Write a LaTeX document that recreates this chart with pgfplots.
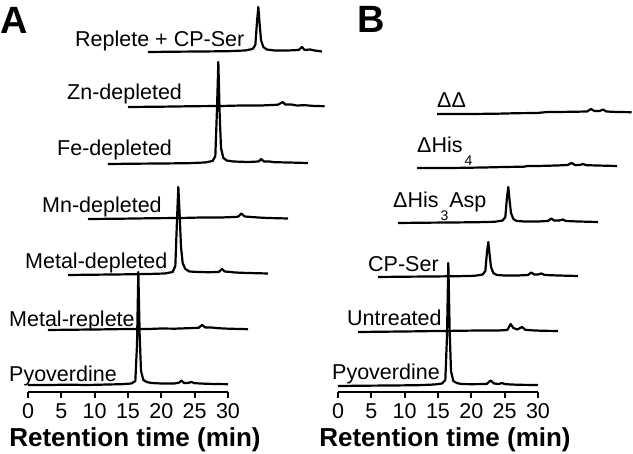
\documentclass[border=0pt]{standalone}
\usepackage{fontspec}
\setmainfont{Liberation Sans}
\usepackage{pgfplots}
\pgfplotsset{compat=1.18}

\newcommand\lab{\fontsize{21.5}{24}\selectfont}
\newcommand\sub[1]{\hspace{2pt}\raisebox{-13pt}{\fontsize{14}{14}\selectfont #1}\hspace{1pt}}

\pgfplotsset{
  chrom/.style={
    scale only axis, width=200pt, height=100pt,
    xmin=0, xmax=30, ymin=0, ymax=100,
    clip=false,
    axis x line=bottom, axis y line=none,
    x axis line style={-, line width=2.1pt},
    xtick={0,5,...,30},
    tick align=outside,
    major tick length=6pt,
    tick style={line width=1.7pt, black},
    /pgf/number format/assume math mode=true,
    xticklabel style={font=\fontsize{21.5}{21.5}\selectfont, yshift=-2pt},
    xlabel={Retention time (min)},
    xlabel style={at={(axis description cs:0.5,0)}, anchor=base,
      yshift=-55pt, xshift=7pt, inner sep=0pt,
      font=\fontsize{26}{26}\selectfont\bfseries},
    every axis plot/.append style={line width=2.2pt, black, mark=none, line join=round},
  }
}

\begin{document}
\begin{tikzpicture}

% ---------- panel A ----------
\begin{axis}[chrom, at={(28pt,-392pt)}, anchor=south west]
% Pyoverdine
\addplot[yshift=7pt] coordinates {
(0,0) (3,0) (6,0.3) (9,0) (12,0.5) (14,0.8) (15.5,1.5) (16.1,4) (16.35,40) (16.55,113)
(16.75,50) (16.95,14) (17.3,5) (17.8,3) (18.5,2) (20,1.5) (22,1.5) (22.7,2.5) (23.0,4.5)
(23.4,2) (24,2) (24.5,3) (25,1.8) (26.5,1.3) (28,1) (30,0.8)};
% Metal-replete
\addplot[xshift=20pt, yshift=62pt] coordinates {
(0,0) (4,0.3) (8,0.6) (12,1) (15,1) (17,1.5) (19,1.3) (21,1.8) (22.6,2.2) (23.1,5)
(23.6,2.5) (24.5,2.5) (25.5,1.8) (27,1.3) (30,0.8)};
% Metal-depleted
\addplot[xshift=40pt, yshift=117pt] coordinates {
(0,0) (4,0.3) (8,0.6) (12,1) (14.5,1.5) (15.7,3) (16.1,9) (16.35,55) (16.55,88) (16.75,60)
(16.95,28) (17.2,12) (17.6,6) (18.2,3.5) (19.5,3) (21,2.8) (22.6,3) (23.1,6) (23.5,3.5)
(24.4,3) (25,2.5) (27,2) (30,1.5)};
% Mn-depleted
\addplot[xshift=60pt, yshift=173pt] coordinates {
(0,0) (5,0.3) (10,0.8) (14,1) (17,1.5) (20,1.5) (22.5,2.2) (23.0,5.5) (23.5,2.5)
(24.5,2) (25.5,1.5) (27,1) (30,0.5)};
% Fe-depleted
\addplot[xshift=80pt, yshift=228pt] coordinates {
(0,0) (4,0.3) (8,0.5) (12,0.8) (14.5,1.5) (15.7,3) (16.1,8) (16.35,55) (16.55,102)
(16.75,50) (16.95,16) (17.3,6) (17.8,3.5) (18.8,2.5) (21,2) (22.6,2.5) (23.0,5) (23.4,2.5)
(24.2,2.5) (25,1.8) (27,1.5) (30,1)};
% Zn-depleted
\addplot[xshift=100pt, yshift=285pt] coordinates {
(0,0) (5,0.3) (10,0.8) (14,1) (17,1.5) (20,1.5) (22.5,2.3) (23.2,5) (23.6,2.5)
(24.5,2.5) (25.3,1.5) (26.5,1.8) (28,1) (29.5,0.8)};
% Replete + CP-Ser
\addplot[xshift=120pt, yshift=340pt] coordinates {
(0,0) (4,0.3) (8,0.5) (12,0.8) (14.5,1.5) (15.7,3) (16.1,7) (16.35,30) (16.55,45)
(16.75,28) (16.95,12) (17.3,5) (17.8,2.5) (19,1.5) (21,1.5) (22.6,2) (23.1,5) (23.5,2)
(24.3,2.5) (25,1.5) (26.1,0.5)};
\end{axis}

% ---------- panel B ----------
\begin{axis}[chrom, at={(338pt,-392pt)}, anchor=south west]
% Pyoverdine
\addplot[yshift=6pt] coordinates {
(0,0) (4,0.3) (8,0.5) (12,0.8) (14.5,1.5) (15.6,2.5) (16.1,6) (16.35,50) (16.55,123)
(16.75,55) (16.95,15) (17.3,5) (17.8,3) (18.5,2) (20,1.8) (22.3,2) (22.9,5.5) (23.4,2.5)
(24.1,2) (24.6,3) (25.1,1.8) (27,1.2) (30,1)};
% Untreated
\addplot[xshift=20pt, yshift=60pt] coordinates {
(0,0) (4,0.3) (8,0.6) (12,1) (15,1.2) (18,1.5) (21,1.5) (22.4,2) (22.9,8) (23.3,4)
(23.9,2.5) (24.6,5) (25.1,2.2) (26.5,1.5) (28,1.2) (30,1)};
% CP-Ser
\addplot[xshift=40pt, yshift=115pt] coordinates {
(0,0) (4,0.3) (8,0.5) (12,0.8) (14.5,1.2) (15.7,2.5) (16.1,6) (16.35,25) (16.55,35)
(16.75,22) (16.95,10) (17.3,4) (17.8,2) (19,1.5) (21,1.5) (22.5,2) (23.0,4.5) (23.4,2.5)
(24,2.5) (24.5,3.5) (25,2) (27,1.5) (30,1)};
% His3Asp
\addplot[xshift=60pt, yshift=169pt] coordinates {
(0,0) (4,0.3) (8,0.5) (12,0.8) (14.5,1.2) (15.7,2.5) (16.1,6) (16.35,26) (16.55,36)
(16.75,22) (16.95,10) (17.3,4) (17.8,2) (19,1.5) (21,1.5) (22.5,2) (23.0,4.5) (23.4,2.5)
(24.2,2.5) (24.7,3.5) (25.2,2) (27,1.5) (30,1)};
% His4
\addplot[xshift=79pt, yshift=224pt] coordinates {
(0,0) (5,0) (8,0.3) (10,0.5) (13,1) (16,1.3) (16.6,2) (18,2) (21,2.5) (22.6,3) (23.2,5)
(23.7,3) (24.4,3) (24.9,4) (25.4,2.8) (27,2.5) (30,2)};
% double mutant
\addplot[xshift=99pt, yshift=278pt] coordinates {
(0,0) (5,0) (9,0.3) (12,0.8) (15,1) (16.6,2) (18,2) (21,2.3) (22.5,2.5) (23.1,5)
(23.6,3) (24.4,3) (24.9,4.5) (25.4,2.5) (27,2) (29.2,1.8)};
\end{axis}

% trace labels
\begin{scope}[every node/.style={inner sep=0pt, anchor=base west, font=\lab}]
\node at (9pt,-382pt) {Pyoverdine};
\node at (9pt,-327pt) {Metal-replete};
\node at (25pt,-269pt) {Metal-depleted};
\node at (42pt,-213pt) {Mn-depleted};
\node at (57pt,-156pt) {Fe-depleted};
\node at (67pt,-100pt) {Zn-depleted};
\node at (75pt,-47pt) {Replete + CP-Ser};
\node at (332pt,-380pt) {Pyoverdine};
\node at (347pt,-326pt) {Untreated};
\node at (368pt,-272pt) {CP-Ser};
\node at (393pt,-208pt) {ΔHis\sub{3}Asp};
\node at (417pt,-153pt) {ΔHis\sub{4}};
\node at (437pt,-108pt) {ΔΔ};
\end{scope}

% panel letters
\node[inner sep=0pt, anchor=base west, font=\fontsize{38}{38}\selectfont\bfseries] at (0pt,-34pt) {A};
\node[inner sep=0pt, anchor=base west, font=\fontsize{38}{38}\selectfont\bfseries] at (357pt,-33pt) {B};

\pgfresetboundingbox
\path[use as bounding box] (0,0) rectangle (633pt,-454pt);
\end{tikzpicture}
\end{document}
